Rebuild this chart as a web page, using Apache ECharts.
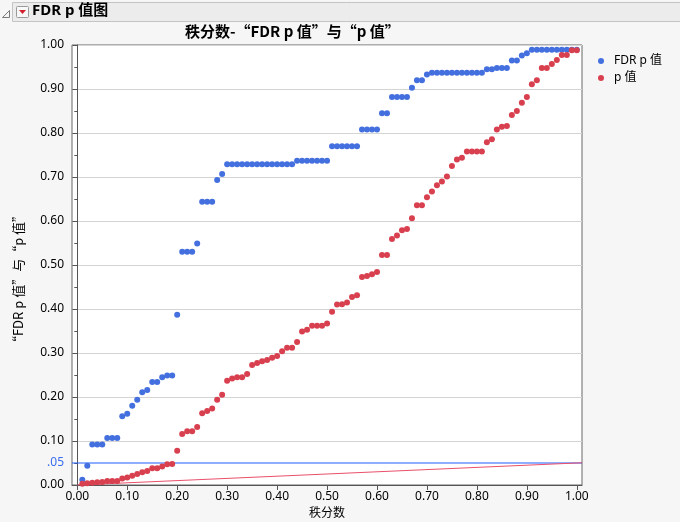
<!DOCTYPE html>
<html>
<head>
<meta charset="utf-8">
<title>FDR p 值图</title>
<script src="https://cdn.jsdelivr.net/npm/echarts@6/dist/echarts.min.js"></script>
<style>
  html, body { margin: 0; padding: 0; background: #f6f6f6; }
  #chart { width: 680px; height: 522px; }
</style>
</head>
<body>
<div id="chart"></div>
<script>
  // rank fraction i/100, i = 1..100
  var ranks = []
  for (var i = 1; i <= 100; i++) ranks.push(i / 100)

  var fdrP = [
    0.012, 0.044, 0.092, 0.092, 0.092, 0.107, 0.107, 0.107, 0.156, 0.162,
    0.180, 0.194, 0.211, 0.216, 0.234, 0.234, 0.245, 0.249, 0.249, 0.387,
    0.530, 0.530, 0.530, 0.549, 0.644, 0.644, 0.644, 0.693, 0.707, 0.729,
    0.729, 0.729, 0.729, 0.729, 0.729, 0.729, 0.729, 0.729, 0.729, 0.729,
    0.729, 0.729, 0.729, 0.737, 0.737, 0.737, 0.737, 0.737, 0.737, 0.737,
    0.770, 0.770, 0.770, 0.770, 0.770, 0.770, 0.808, 0.808, 0.808, 0.808,
    0.845, 0.845, 0.882, 0.882, 0.882, 0.882, 0.903, 0.920, 0.920, 0.933,
    0.937, 0.937, 0.937, 0.937, 0.937, 0.937, 0.937, 0.937, 0.937, 0.937,
    0.937, 0.945, 0.945, 0.948, 0.948, 0.948, 0.965, 0.965, 0.976, 0.981,
    0.989, 0.989, 0.989, 0.989, 0.989, 0.989, 0.989, 0.989, 0.989, 0.989
  ]

  var pVal = [
    0.003, 0.004, 0.005, 0.006, 0.007, 0.009, 0.009, 0.009, 0.015, 0.017,
    0.021, 0.025, 0.029, 0.032, 0.038, 0.038, 0.042, 0.047, 0.048, 0.078,
    0.116, 0.122, 0.122, 0.132, 0.163, 0.168, 0.174, 0.194, 0.205, 0.237,
    0.242, 0.245, 0.245, 0.252, 0.273, 0.277, 0.281, 0.284, 0.289, 0.293,
    0.304, 0.312, 0.312, 0.325, 0.349, 0.353, 0.362, 0.362, 0.362, 0.367,
    0.394, 0.410, 0.411, 0.415, 0.427, 0.431, 0.473, 0.475, 0.479, 0.484,
    0.523, 0.523, 0.559, 0.567, 0.579, 0.582, 0.606, 0.636, 0.636, 0.654,
    0.667, 0.681, 0.690, 0.701, 0.725, 0.740, 0.744, 0.758, 0.758, 0.758,
    0.758, 0.779, 0.786, 0.808, 0.814, 0.816, 0.841, 0.850, 0.869, 0.882,
    0.911, 0.920, 0.948, 0.948, 0.957, 0.966, 0.977, 0.977, 0.988, 0.988
  ]

  var xTicks = [0, 0.1, 0.2, 0.3, 0.4, 0.5, 0.6, 0.7, 0.8, 0.9, 1.0]
  var yTicks = [0, 0.05, 0.1, 0.2, 0.3, 0.4, 0.5, 0.6, 0.7, 0.8, 0.9, 1.0]
  var alpha = 0.05

  var xMin = -0.0106
  var xMax = 1.0104
  var alphaLine = [[xMin, alpha], [xMax, alpha]]
  var refLine = [[0, 0], [xMax, alpha * xMax]]

  var font = '"Noto Sans", "Noto Sans CJK SC", sans-serif'
  var cjkFont = '"Noto Sans CJK SC", sans-serif'
  var blue = '#4470df'
  var red = '#d8404f'

  var chart = echarts.init(document.getElementById('chart'))

  chart.setOption({
    animation: false,
    backgroundColor: '#f6f6f6',
    textStyle: { fontFamily: font },
    title: {
      text: '秩分数-“FDR p 值”与“p 值”',
      left: 185,
      top: 24,
      padding: 0,
      textStyle: { fontSize: 15, fontWeight: 'bold', color: '#000', fontFamily: cjkFont }
    },
    legend: {
      orient: 'vertical',
      left: 593,
      top: 50,
      itemWidth: 6,
      itemHeight: 6,
      itemGap: 5,
      icon: 'circle',
      data: ['FDR p 值', 'p 值'],
      textStyle: { fontSize: 12, color: '#000', padding: [0, 0, 0, 5], fontFamily: font }
    },
    grid: {
      left: 72,
      right: 98,
      top: 45,
      bottom: 37,
      outerBoundsMode: 'none',
      show: true,
      backgroundColor: '#fff',
      borderColor: '#666',
      borderWidth: 1
    },
    graphic: [
      {
        type: 'rect',
        shape: { x: 12.5, y: 2.5, width: 668, height: 19 },
        style: { fill: '#ececec', stroke: '#c4c4c4', lineWidth: 1 }
      },
      {
        // disclosure triangle
        type: 'polygon',
        shape: { points: [[2.5, 17.5], [9.5, 17.5], [9.5, 10.5]] },
        style: { stroke: '#7a7a7a', fill: 'none', lineWidth: 1 }
      },
      {
        type: 'rect',
        shape: { x: 16.5, y: 6.5, width: 12, height: 11, r: 1 },
        style: { fill: '#f8f8f8', stroke: '#9a9a9a', lineWidth: 1 }
      },
      {
        type: 'polygon',
        shape: { points: [[19, 10], [26, 10], [22.5, 14]] },
        style: { fill: '#d3202d' }
      },
      {
        type: 'text',
        left: 32,
        top: 3,
        style: { text: 'FDR p 值图', font: 'bold 15px ' + font, fill: '#000' }
      },
      {
        type: 'text',
        x: 18,
        y: 279,
        rotation: Math.PI / 2,
        style: {
          text: '“FDR p 值”与“p 值”',
          font: '13px ' + cjkFont,
          fill: '#000',
          align: 'center',
          verticalAlign: 'middle'
        }
      }
    ],
    xAxis: {
      type: 'value',
      min: xMin,
      max: xMax,
      name: '秩分数',
      nameLocation: 'middle',
      nameGap: 21,
      nameTextStyle: { fontSize: 12, color: '#000' },
      axisLine: { onZero: false, lineStyle: { color: '#555' } },
      axisTick: { customValues: xTicks, length: 5, lineStyle: { color: '#555' } },
      axisLabel: {
        customValues: xTicks,
        fontSize: 12,
        color: '#000',
        margin: 6,
        formatter: function (v) { return v.toFixed(2) }
      },
      splitLine: { show: false }
    },
    yAxis: {
      type: 'value',
      min: 0,
      max: 1,
      interval: 0.1,
      axisLine: { show: true, lineStyle: { color: '#555' } },
      axisTick: { show: true, length: 5, lineStyle: { color: '#555' } },
      minorTick: { show: true, splitNumber: 2, length: 3, lineStyle: { color: '#555' } },
      axisLabel: {
        customValues: yTicks,
        fontSize: 12,
        color: '#000',
        margin: 8,
        formatter: function (v) {
          if (Math.abs(v - 0.05) < 1e-9) return '{ref|.05}'
          return v.toFixed(2)
        },
        rich: { ref: { color: '#3a6cf0', fontSize: 12 } }
      },
      splitLine: { show: true, lineStyle: { color: '#d4d4d4' } }
    },
    series: [
      {
        name: 'alpha',
        type: 'line',
        data: alphaLine,
        symbol: 'none',
        silent: true,
        lineStyle: { color: '#1f5cff', width: 1 },
        z: 2
      },
      {
        name: 'BH',
        type: 'line',
        data: refLine,
        symbol: 'none',
        silent: true,
        lineStyle: { color: '#e9506a', width: 1.2 },
        z: 2
      },
      {
        name: 'FDR p 值',
        type: 'scatter',
        symbolSize: 6,
        itemStyle: { color: blue, opacity: 1 },
        data: ranks.map(function (r, k) { return [r, fdrP[k]] }),
        z: 3
      },
      {
        name: 'p 值',
        type: 'scatter',
        symbolSize: 6,
        itemStyle: { color: red, opacity: 1 },
        data: ranks.map(function (r, k) { return [r, pVal[k]] }),
        z: 3
      }
    ]
  })
</script>
</body>
</html>
